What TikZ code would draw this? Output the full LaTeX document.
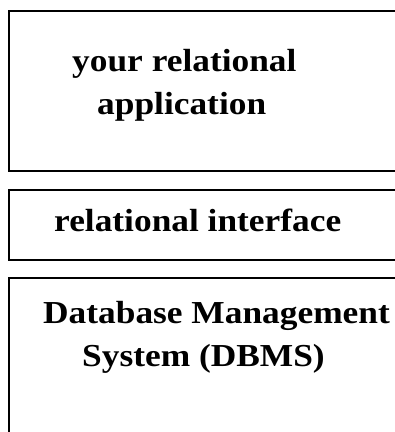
\documentclass[tikz,border=0pt]{standalone}
\usepackage{fontspec}
\setmainfont{Liberation Serif}
\newcommand{\widetext}[1]{\scalebox{1.105}[1]{#1}}
\begin{document}
\begin{tikzpicture}[x=1pt,y=-1pt,
  layerbox/.style={draw=black, line width=2pt, inner sep=0pt, anchor=north west},
  label/.style={anchor=base west, inner sep=0pt, font=\bfseries\fontsize{32}{38}\selectfont}]
\useasboundingbox (0,0) rectangle (395,432);
\clip (0,0) rectangle (395,432);
\fill[white] (0,0) rectangle (395,432);
\node[layerbox, minimum width=400pt, minimum height=160pt] (app) at (7.5,10) {};
\node[layerbox, minimum width=400pt, minimum height=70pt] (iface) at (7.5,188.5) {};
\node[layerbox, minimum width=400pt, minimum height=170pt] (dbms) at (7.5,277) {};
\node[label] (t1) at (72,71.5) {\widetext{your relational}};
\node[label] (t2) at (97,114) {\widetext{application}};
\node[label] (t3) at (54,231.5) {\widetext{relational interface}};
\node[label] (t4) at (43,323) {\widetext{Database Management}};
\node[label] (t5) at (82,366) {\widetext{System (DBMS)}};
\end{tikzpicture}
\end{document}
